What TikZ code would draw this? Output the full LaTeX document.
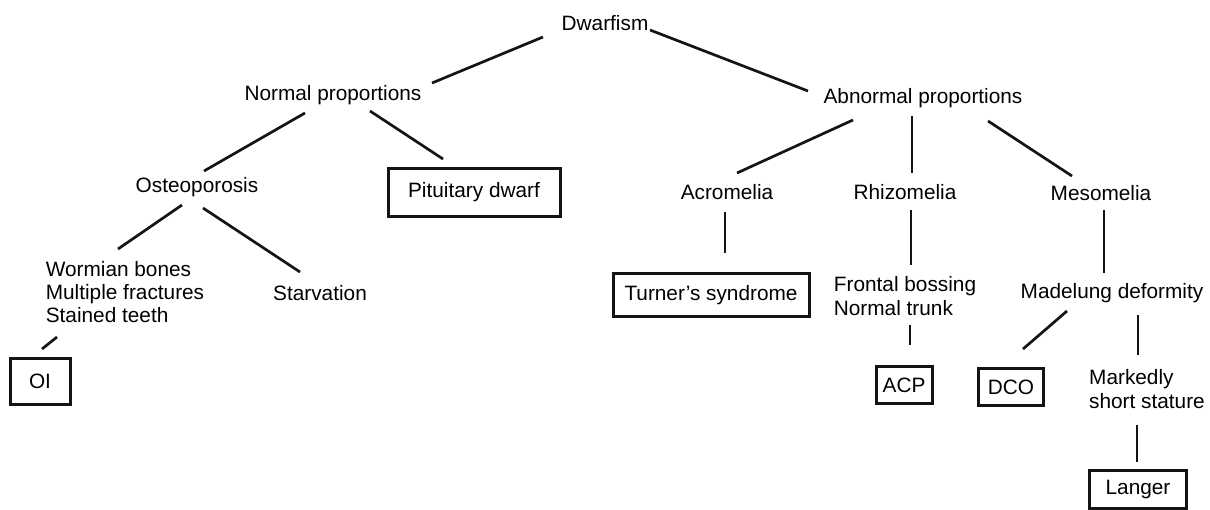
\documentclass[tikz,border=0pt]{standalone}
\usepackage{fontspec}
\setmainfont{Liberation Sans}
\definecolor{figline}{RGB}{20,20,20}
\tikzset{
  lab/.style ={font=\fontsize{10.4}{11.7}\selectfont, inner sep=0pt, align=left},
  box/.style ={draw=figline, line width=1.5pt, font=\fontsize{10.4}{11.7}\selectfont, inner sep=0pt},
  link/.style={draw=figline, line width=1.35pt},
}
\begin{document}
\begin{tikzpicture}[x=0.5pt,y=-0.5pt]
  \useasboundingbox (0,0) rectangle (1210,509);
  % top levels
  \node[lab] (dw) at (605,23) {Dwarfism};
  \node[lab] (np) at (333,95) {Normal proportions};
  \node[lab] (ap) at (923,98) {Abnormal proportions};
  \node[lab] (os) at (197,187) {Osteoporosis};
  \node[box,minimum width=86pt,minimum height=24pt] (pd) at (474,192) {Pituitary dwarf};
  \node[lab] (ac) at (727,192) {Acromelia};
  \node[lab] (rz) at (905,192) {Rhizomelia};
  \node[lab] (ms) at (1101,193) {Mesomelia};
  % lower levels
  \node[lab] (wb) at (125,292) {Wormian bones\\Multiple fractures\\Stained teeth};
  \node[lab] (sv) at (320,293) {Starvation};
  \node[box,minimum width=30pt,minimum height=23pt] (oi) at (40,381) {OI};
  \node[box,minimum width=98pt,minimum height=21.5pt] (tu) at (711,295) {Turner's syndrome};
  \node[lab] (fb) at (905,296) {Frontal bossing\\Normal trunk};
  \node[box,minimum width=28pt,minimum height=18.5pt] (acp) at (904,385) {ACP};
  \node[lab] (md) at (1112,293) {Madelung deformity};
  \node[box,minimum width=32.5pt,minimum height=18.5pt] (dco) at (1011,387) {DCO};
  \node[lab] (mk) at (1147,389) {Markedly\\short stature};
  \node[box,minimum width=48.5pt,minimum height=19pt] (la) at (1138,489) {Langer};
  % connectors
  \draw[link] ([shift={(-62,14)}]dw.center) -- ([shift={(99,-12)}]np.center);
  \draw[link] ([shift={(45,7)}]dw.center) -- ([shift={(-115,-7)}]ap.center);
  \draw[link] ([shift={(-28,18)}]np.center) -- ([shift={(7,-16)}]os.center);
  \draw[link] ([shift={(37,16)}]np.center) -- ([shift={(-31,-33)}]pd.center);
  \draw[link] ([shift={(-70,22)}]ap.center) -- ([shift={(10,-19)}]ac.center);
  \draw[link] ([shift={(-11,18)}]ap.center) -- ([shift={(7,-19)}]rz.center);
  \draw[link] ([shift={(65,23)}]ap.center) -- ([shift={(-29,-17)}]ms.center);
  \draw[link] ([shift={(-15,18)}]os.center) -- ([shift={(-7,-43)}]wb.center);
  \draw[link] ([shift={(6,21)}]os.center) -- ([shift={(-20,-21)}]sv.center);
  \draw[link] ([shift={(-68,45)}]wb.center) -- ([shift={(2,-32)}]oi.center);
  \draw[link] ([shift={(-2,20)}]ac.center) -- ([shift={(14,-42)}]tu.center);
  \draw[link] ([shift={(6,18)}]rz.center) -- ([shift={(6,-31)}]fb.center);
  \draw[link] ([shift={(5,29)}]fb.center) -- ([shift={(6,-40)}]acp.center);
  \draw[link] ([shift={(3,17)}]ms.center) -- ([shift={(-8,-20)}]md.center);
  \draw[link] ([shift={(-45,18)}]md.center) -- ([shift={(12,-38)}]dco.center);
  \draw[link] ([shift={(26,22)}]md.center) -- ([shift={(-9,-34)}]mk.center);
  \draw[link] ([shift={(-10,36)}]mk.center) -- ([shift={(-1,-27)}]la.center);
\end{tikzpicture}
\end{document}
